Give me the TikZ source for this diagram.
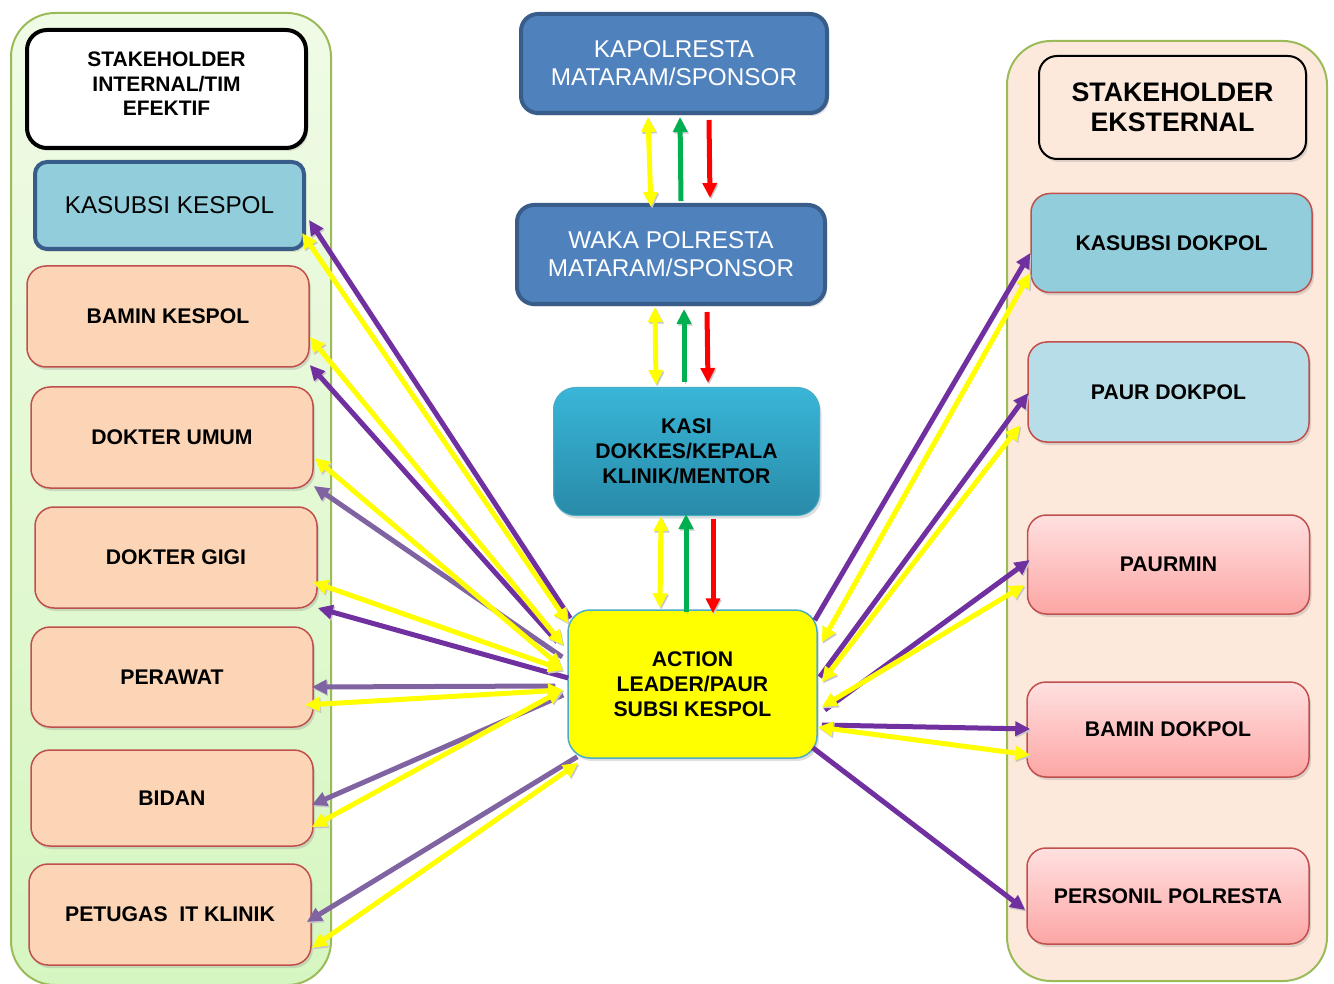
\documentclass[tikz,border=0pt]{standalone}
\usepackage{fontspec}
\setmainfont{Liberation Sans}
\usetikzlibrary{arrows.meta,calc,shadows}

\definecolor{panelEdge}{RGB}{155,187,89}
\definecolor{greenTop}{RGB}{240,251,230}
\definecolor{greenBot}{RGB}{214,246,193}
\definecolor{peachPanel}{RGB}{252,233,219}
\definecolor{peachBox}{RGB}{251,213,181}
\definecolor{boxRed}{RGB}{192,80,77}
\definecolor{skyBox}{RGB}{146,205,220}
\definecolor{paleSky}{RGB}{183,222,232}
\definecolor{navyFill}{RGB}{79,129,189}
\definecolor{navyEdge}{RGB}{56,93,138}
\definecolor{tealTop}{RGB}{57,182,216}
\definecolor{tealBot}{RGB}{40,138,168}
\definecolor{tealEdge}{RGB}{75,172,198}
\definecolor{pinkTop}{RGB}{255,224,224}
\definecolor{pinkBot}{RGB}{252,166,164}
\definecolor{aYellow}{RGB}{255,255,0}
\definecolor{aPurple}{RGB}{112,48,160}
\definecolor{aLavender}{RGB}{128,100,162}
\definecolor{aGreen}{RGB}{0,176,80}
\definecolor{aRed}{RGB}{255,0,0}

\begin{document}
\begin{tikzpicture}[x=1pt,y=-1pt,
  box/.style={rectangle, rounded corners=19pt, inner sep=2pt, align=center,
    font=\fontsize{21.2}{25}\selectfont\bfseries,
    drop shadow={opacity=0.25, shadow xshift=2pt, shadow yshift=-3pt}},
  peachbox/.style={box, fill=peachBox, draw=boxRed, line width=1.5pt,
    minimum width=282pt, minimum height=101pt},
  pinkbox/.style={box, top color=pinkTop, bottom color=pinkBot, draw=boxRed,
    line width=1.5pt, minimum width=282pt, minimum height=97pt},
  skybox/.style={box, fill=#1, draw=boxRed, line width=1.5pt,
    minimum width=281pt, minimum height=99pt},
  chief/.style={box, fill=navyFill, draw=navyEdge, line width=4pt, rounded corners=17pt,
    text=white, font=\fontsize{24.3}{28}\selectfont, minimum height=99pt},
  panel/.style={rectangle, rounded corners=44pt, line width=2pt, draw=panelEdge,
    minimum width=320pt},
  tipshape/.tip={Triangle[length=15pt,width=14pt]},
  shade arrow/.style={preaction={draw=black!22, transform canvas={shift={(1.2pt,-1.6pt)}}}},
  oneway/.style={shade arrow, line width=5pt, draw=#1, -tipshape},
  twoway/.style={shade arrow, line width=5pt, draw=#1, tipshape-tipshape}
]
\useasboundingbox (0,0) rectangle (1334,984);

% --- background panels ---
\node[panel, top color=greenTop, bottom color=greenBot, minimum height=972pt] (lp) at (171,499) {};
\node[panel, fill=peachPanel, minimum height=940pt] (rp) at (1167,511) {};

% --- internal stakeholders ---
\node[box, fill=white, draw=black, line width=4pt, rounded corners=20pt,
      minimum width=279pt, minimum height=118pt,
      font=\fontsize{21}{24.5}\selectfont\bfseries] (lh) at (166.5,89)
      {STAKEHOLDER\\INTERNAL/TIM\\EFEKTIF\\[-14pt]\mbox{}};
\node[box, fill=skyBox, draw=navyEdge, line width=4pt, rounded corners=12pt,
      minimum width=269pt, minimum height=87pt,
      font=\fontsize{24.3}{28}\selectfont] (kk) at (169.5,205.5) {KASUBSI KESPOL};
\node[peachbox] (bk) at (168,316.5) {BAMIN KESPOL};
\node[peachbox] (du) at (172,437.5) {DOKTER UMUM};
\node[peachbox] (dg) at (176,557.5) {DOKTER GIGI};
\node[peachbox, minimum height=100pt] (pw) at (172,677) {PERAWAT};
\node[peachbox, minimum height=96pt] (bi) at (172,798) {BIDAN};
\node[peachbox] (pt) at (170,914.5) {PETUGAS\ \ IT KLINIK};

% --- external stakeholders ---
\node[box, fill=peachPanel, draw=black, line width=2pt, rounded corners=18pt,
      minimum width=267pt, minimum height=103pt,
      font=\fontsize{26.8}{30}\selectfont\bfseries] (rh) at (1172.5,107.5)
      {STAKEHOLDER\\EKSTERNAL};
\node[skybox=skyBox] (kd) at (1171.5,243) {KASUBSI DOKPOL};
\node[skybox=paleSky, minimum height=100pt] (pd) at (1168.5,392) {PAUR DOKPOL};
\node[pinkbox, minimum height=99pt] (pm) at (1168.5,564.5) {PAURMIN};
\node[pinkbox, minimum height=95pt] (bd) at (1168,729.5) {BAMIN DOKPOL};
\node[pinkbox, minimum height=96pt] (pp) at (1168,896) {PERSONIL POLRESTA};

% --- chain of command ---
\node[chief, minimum width=306pt] (kap) at (674,63.5) {KAPOLRESTA\\MATARAM/SPONSOR};
\node[chief, minimum width=308pt] (waka) at (671,254.5) {WAKA POLRESTA\\MATARAM/SPONSOR};
\node[box, top color=tealTop, bottom color=tealBot, draw=tealEdge, line width=1pt,
      rounded corners=22pt, minimum width=266pt, minimum height=128pt] (kasi) at (686.5,451.5)
      {KASI\\DOKKES/KEPALA\\KLINIK/MENTOR};
\node[box, fill=aYellow, draw=tealEdge, line width=1.5pt, rounded corners=22pt,
      minimum width=249pt, minimum height=148pt] (act) at (692.5,684)
      {ACTION\\LEADER/PAUR\\SUBSI KESPOL};

% --- vertical links ---
\draw[twoway=aYellow] ($(kap.south)+(-26,2)$) -- ($(waka.north)+(-20,4)$);
\draw[oneway=aGreen] ($(waka.north)+(10,-2)$) -- ($(kap.south)+(6,2)$);
\draw[oneway=aRed] ($(kap.south)+(35,5)$) -- ($(waka.north)+(39,-5)$);

\draw[twoway=aYellow] ($(waka.south)+(-16,1)$) -- ($(kasi.north)+(-30.5,-2)$);
\draw[oneway=aGreen] ($(kasi.north)+(-2.5,-5)$) -- ($(waka.south)+(13,3)$);
\draw[oneway=aRed] ($(waka.south)+(36,6)$) -- ($(kasi.north)+(21.5,-4)$);

\draw[twoway=aYellow] ($(kasi.south)+(-25.5,0)$) -- ($(act.north)+(-32.5,-1)$);
\draw[oneway=aGreen] ($(act.north)+(-6.5,3)$) -- ($(kasi.south)+(-0.5,-2)$);
\draw[oneway=aRed] ($(kasi.south)+(26.5,3)$) -- ($(act.north)+(20.5,4)$);

% --- links to internal stakeholders ---
\draw[oneway=aPurple] ($(act.north west)+(3,9)$) -- ($(kk.east)+(3,14.5)$);
\draw[twoway=aYellow] ($(act.north west)+(1,14)$) -- ($(kk.east)+(-4,27.5)$);
\draw[oneway=aPurple] ($(act.west)+(-10,-42)$) -- ($(bk.east)+(0,48.5)$);
\draw[twoway=aYellow] ($(act.west)+(-4,-39)$) -- ($(bk.east)+(0,20.5)$);
\draw[oneway=aLavender] ($(act.west)+(-5,-27)$) -- ($(du.east)+(0,48.5)$);
\draw[twoway=aYellow] ($(act.west)+(-5,-16)$) -- ($(du.east)+(1,20.5)$);
\draw[oneway=aPurple] ($(act.west)+(1,-6)$) -- ($(dg.east)+(0,50.5)$);
\draw[twoway=aYellow] ($(act.west)+(-4,-14)$) -- ($(dg.east)+(-5,24.5)$);
\draw[oneway=aLavender] ($(act.west)+(-12,2)$) -- ($(pw.east)+(-2,10)$);
\draw[twoway=aYellow] ($(act.west)+(-4,6)$) -- ($(pw.east)+(-9,28)$);
\draw[oneway=aLavender] ($(act.west)+(-4,11)$) -- ($(bi.east)+(-2,7)$);
\draw[twoway=aYellow] ($(act.west)+(-5,6)$) -- ($(bi.east)+(-2,29)$);
\draw[oneway=aLavender] ($(act.south west)+(10,-2)$) -- ($(pt.east)+(-5,7.5)$);
\draw[twoway=aYellow] ($(act.south west)+(11,4)$) -- ($(pt.east)+(0,33.5)$);

% --- links to external stakeholders ---
\draw[oneway=aPurple] ($(act.north east)+(-3,11)$) -- ($(kd.west)+(0,10)$);
\draw[twoway=aYellow] ($(act.north east)+(4,33)$) -- ($(kd.west)+(0,30)$);
\draw[oneway=aPurple] ($(act.east)+(2,-7)$) -- ($(pd.west)+(1,1)$);
\draw[twoway=aYellow] ($(act.east)+(4,-2)$) -- ($(pd.west)+(-7,33)$);
\draw[oneway=aPurple] ($(act.east)+(7,26)$) -- ($(pm.west)+(3,-4.5)$);
\draw[twoway=aYellow] ($(act.east)+(4,23)$) -- ($(pm.west)+(-2,20.5)$);
\draw[oneway=aPurple] ($(act.east)+(4,41)$) -- ($(bd.west)+(4,-0.5)$);
\draw[twoway=aYellow] ($(act.east)+(0,43)$) -- ($(bd.west)+(4,25.5)$);
\draw[oneway=aPurple] ($(act.south east)+(-5,-11)$) -- ($(pp.west)+(-1,14)$);
\end{tikzpicture}
\end{document}
